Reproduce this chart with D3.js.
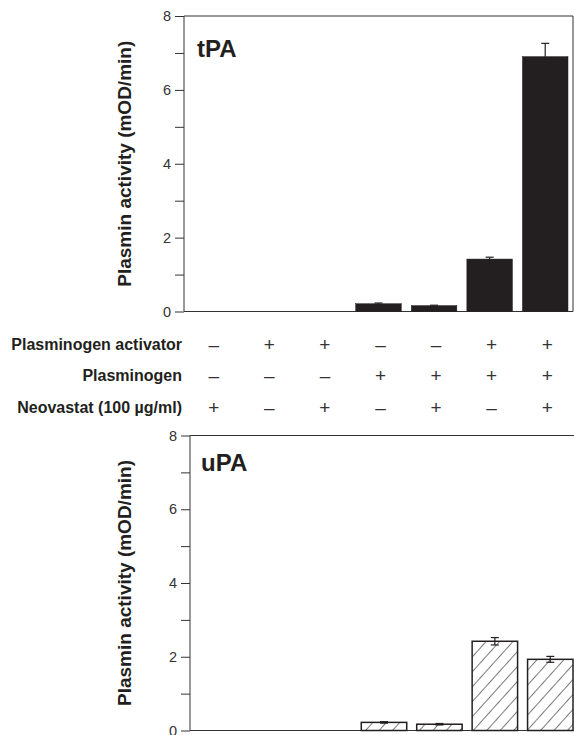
<!DOCTYPE html>
<html>
<head>
<meta charset="utf-8">
<script src="https://cdn.jsdelivr.net/npm/d3@7"></script>
<style>
  body { margin: 0; background: #fff; }
  svg { display: block; font-family: "Liberation Sans", Arial, sans-serif; }
  .axis path, .axis line { stroke: #333; }
  .axis text { font-size: 14.5px; fill: #333; }
  .ylabel { font-size: 19px; font-weight: bold; fill: #231f20; }
  .panel { font-size: 24px; font-weight: bold; fill: #231f20; }
  .rowlabel { font-size: 16px; font-weight: bold; fill: #231f20; }
  .sign { font-size: 19px; fill: #333; }
</style>
</head>
<body>
<div class="chart"></div>
<script>
const conditions = [ "c1", "c2", "c3", "c4", "c5", "c6", "c7" ];
const tpaValues = [ 0, 0, 0, 0.21, 0.16, 1.42, 6.9 ];
const tpaErrors = [ 0, 0, 0, 0.02, 0.01, 0.05, 0.36 ];
const upaValues = [ 0, 0, 0, 0.22, 0.17, 2.42, 1.93 ];
const upaErrors = [ 0, 0, 0, 0.02, 0.02, 0.1, 0.08 ];
const rowNames = [ "Plasminogen activator", "Plasminogen", "Neovastat (100 \u00b5g/ml)" ];
const activator   = [ "-", "+", "+", "-", "-", "+", "+" ];
const plasminogen = [ "-", "-", "-", "+", "+", "+", "+" ];
const neovastat   = [ "+", "-", "+", "-", "+", "-", "+" ];
const yTicks = [ 0, 1, 2, 3, 4, 5, 6, 7, 8 ];

const width  = 574;
const height = 735;

const svg = d3.select( ".chart" )
  .append( "svg" )
    .attr( "width", width )
    .attr( "height", height );

const defs = svg.append( "defs" );
const hatch = defs.append( "pattern" )
  .attr( "id", "hatch" )
  .attr( "patternUnits", "userSpaceOnUse" )
  .attr( "width", 10 )
  .attr( "height", 10 )
  .attr( "patternTransform", "rotate(42)" );
hatch.append( "rect" ).attr( "width", 10 ).attr( "height", 10 ).attr( "fill", "#fff" );
hatch.append( "line" )
  .attr( "x1", 0 ).attr( "y1", 0 ).attr( "x2", 0 ).attr( "y2", 10 )
  .attr( "stroke", "#231f20" ).attr( "stroke-width", 1.2 );

function panel( opts ) {
  const g = svg.append( "g" );

  const xScale = d3.scaleBand()
    .domain( conditions )
    .range( [ opts.left, opts.right ] )
    .paddingInner( 0.18 )
    .paddingOuter( 0.09 );

  const yScale = d3.scaleLinear()
    .domain( [ 0, 8 ] )
    .range( [ opts.bottom, opts.top ] );

  const yAxis = d3.axisLeft( yScale )
    .tickValues( yTicks )
    .tickSize( 9 )
    .tickPadding( 4 )
    .tickFormat( d => d % 2 === 0 ? d : "" );

  // frame
  g.append( "line" )
    .attr( "x1", opts.left ).attr( "x2", opts.frameRight )
    .attr( "y1", yScale( 8 ) ).attr( "y2", yScale( 8 ) )
    .attr( "stroke", "#333" );
  g.append( "line" )
    .attr( "x1", opts.left ).attr( "x2", opts.frameRight )
    .attr( "y1", yScale( 0 ) ).attr( "y2", yScale( 0 ) )
    .attr( "stroke", "#333" );
  if ( opts.rightLine ) {
    g.append( "line" )
      .attr( "x1", opts.frameRight ).attr( "x2", opts.frameRight )
      .attr( "y1", yScale( 8 ) ).attr( "y2", yScale( 0 ) )
      .attr( "stroke", "#333" );
  }

  g.append( "g" )
    .attr( "class", "axis" )
    .attr( "transform", `translate(${ opts.left },0)` )
    .call( yAxis )
    .call( a => a.select( ".domain" ).attr( "d", `M-0,${ yScale( 8 ) }V${ yScale( 0 ) }` ) );

  const data = opts.values.map( ( v, i ) => ( { c: conditions[ i ], v: v, e: opts.errors[ i ] } ) )
    .filter( d => d.v > 0 );

  g.selectAll( "rect.bar" )
    .data( data )
    .enter()
      .append( "rect" )
      .attr( "class", "bar" )
      .attr( "x", d => xScale( d.c ) )
      .attr( "width", xScale.bandwidth() )
      .attr( "y", d => yScale( d.v ) )
      .attr( "height", d => yScale( 0 ) - yScale( d.v ) )
      .attr( "fill", opts.fill )
      .attr( "stroke", "#231f20" )
      .attr( "stroke-width", opts.strokeWidth );

  const err = g.selectAll( "g.err" )
    .data( data )
    .enter()
      .append( "g" )
      .attr( "class", "err" )
      .attr( "stroke", "#231f20" )
      .attr( "stroke-width", 1.2 );

  const cx = d => xScale( d.c ) + xScale.bandwidth() / 2;
  const low = d => opts.both ? yScale( d.v - d.e ) : yScale( d.v );

  err.append( "line" )
    .attr( "x1", cx ).attr( "x2", cx )
    .attr( "y1", low ).attr( "y2", d => yScale( d.v + d.e ) );
  err.append( "line" )
    .attr( "x1", d => cx( d ) - 4 ).attr( "x2", d => cx( d ) + 4 )
    .attr( "y1", d => yScale( d.v + d.e ) ).attr( "y2", d => yScale( d.v + d.e ) );
  if ( opts.both ) {
    err.append( "line" )
      .attr( "x1", d => cx( d ) - 4 ).attr( "x2", d => cx( d ) + 4 )
      .attr( "y1", low ).attr( "y2", low );
  }

  g.append( "text" )
    .attr( "class", "panel" )
    .attr( "x", opts.left + opts.nameDx )
    .attr( "y", yScale( 8 ) + opts.nameDy )
    .text( opts.name );

  g.append( "text" )
    .attr( "class", "ylabel" )
    .attr( "text-anchor", "middle" )
    .attr( "transform", `translate(131,${ ( yScale( 0 ) + yScale( 8 ) ) / 2 }) rotate(-90)` )
    .text( "Plasmin activity (mOD/min)" );

  return xScale;
}

const tpaX = panel( {
  name: "tPA", values: tpaValues, errors: tpaErrors,
  left: 184, right: 573, top: 16, bottom: 311.5, frameRight: 573, rightLine: true,
  fill: "#231f20", strokeWidth: 0.5, both: false, nameDx: 13, nameDy: 41
} );

panel( {
  name: "uPA", values: upaValues, errors: upaErrors,
  left: 190, right: 578, top: 435.5, bottom: 730.5, frameRight: 574, rightLine: false,
  fill: "url(#hatch)", strokeWidth: 1.5, both: true, nameDx: 11, nameDy: 35
} );

// condition table, signs centred under the tPA bars
const rowScale = d3.scalePoint()
  .domain( rowNames )
  .range( [ 344, 407 ] );

const rows = [ activator, plasminogen, neovastat ];

const table = svg.append( "g" );

rowNames.forEach( ( name, r ) => {
  table.append( "text" )
    .attr( "class", "rowlabel" )
    .attr( "text-anchor", "end" )
    .attr( "x", 182 )
    .attr( "y", rowScale( name ) )
    .attr( "dy", ".35em" )
    .text( name );

  table.selectAll( null )
    .data( rows[ r ] )
    .enter()
      .append( "text" )
      .attr( "class", "sign" )
      .attr( "text-anchor", "middle" )
      .attr( "x", ( d, i ) => tpaX( conditions[ i ] ) + tpaX.bandwidth() / 2 + 2 )
      .attr( "y", rowScale( name ) )
      .attr( "dy", ".35em" )
      .text( d => d === "+" ? "+" : "\u2013" );
} );
</script>
</body>
</html>
